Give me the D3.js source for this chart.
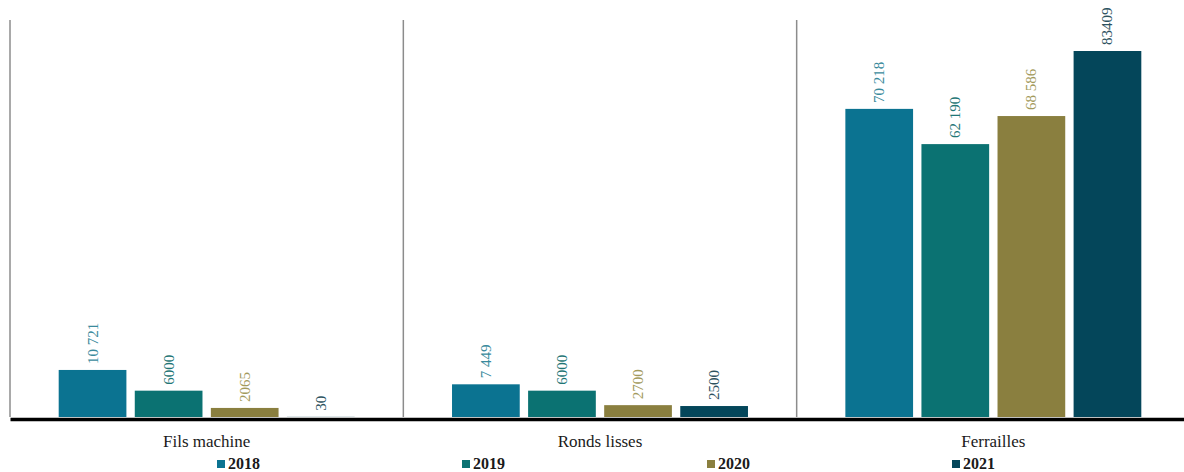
<!DOCTYPE html>
<html>
<head>
<meta charset="utf-8">
<script src="https://cdn.jsdelivr.net/npm/d3@7"></script>
<style>
  html, body { margin: 0; padding: 0; background: #fff; }
  svg { display: block; }
  text { font-family: "Liberation Serif", "Times New Roman", serif; }
</style>
</head>
<body>
<svg id="chart" width="1184" height="472"></svg>
<script>
const categories = ["Fils machine", "Ronds lisses", "Ferrailles"];
const series = ["2018", "2019", "2020", "2021"];
const values2018 = [10721, 7449, 70218];
const values2019 = [6000, 6000, 62190];
const values2020 = [2065, 2700, 68586];
const values2021 = [30, 2500, 83409];
const labels2018 = ["10 721", "7 449", "70 218"];
const labels2019 = ["6000", "6000", "62 190"];
const labels2020 = ["2065", "2700", "68 586"];
const labels2021 = ["30", "2500", "83409"];

const barColors = ["#0b7391", "#0b7272", "#8a7f3f", "#04465a"];
const labelColors = ["#3a8a9c", "#1f7676", "#a39a5c", "#2d5260"];

const seriesValues = [values2018, values2019, values2020, values2021];
const seriesLabels = [labels2018, labels2019, labels2020, labels2021];

const svg = d3.select("#chart");
const plotLeft = 10, plotRight = 1190, plotTop = 20, plotBase = 417;

const x0 = d3.scaleBand().domain(categories).range([plotLeft, plotRight]).paddingInner(0).paddingOuter(0);
const x1 = d3.scaleBand().domain(series).range([0, x0.bandwidth()]).paddingInner(0.11).paddingOuter(0.64);
const y = d3.scaleLinear().domain([0, 83409]).range([plotBase, 51]);

// vertical separators
svg.append("g").selectAll("line").data(categories).join("line")
  .attr("x1", d => x0(d)).attr("x2", d => x0(d))
  .attr("y1", plotTop).attr("y2", plotBase)
  .attr("stroke", "#8c8c8c").attr("stroke-width", 1.5);

const data = [];
categories.forEach((c, ci) => {
  series.forEach((s, si) => {
    data.push({ c, s, si, v: seriesValues[si][ci], label: seriesLabels[si][ci] });
  });
});

svg.append("g").selectAll("rect").data(data).join("rect")
  .attr("x", d => x0(d.c) + x1(d.s))
  .attr("width", x1.bandwidth())
  .attr("y", d => y(d.v))
  .attr("height", d => plotBase - y(d.v))
  .attr("fill", d => barColors[d.si]);

svg.append("g").selectAll("text").data(data).join("text")
  .attr("transform", d => `translate(${x0(d.c) + x1(d.s) + x1.bandwidth() / 2 + 5},${y(d.v) - 6}) rotate(-90)`)
  .attr("text-anchor", "start")
  .attr("font-size", 15)
  .attr("fill", d => labelColors[d.si])
  .text(d => d.label);

// baseline axis
const xAxis = d3.axisBottom(x0).tickSize(0).tickPadding(16);
const ax = svg.append("g").attr("transform", `translate(0,${plotBase + 2})`).call(xAxis);
ax.select(".domain").attr("stroke", "#000").attr("stroke-width", 3.5);
ax.selectAll("text").attr("font-size", 17).attr("fill", "#1a1a1a")
  .style("font-family", '"Liberation Serif", serif');

// legend
const legendX = d3.scalePoint().domain(series).range([217, 952]);
const lg = svg.append("g").selectAll("g").data(series).join("g")
  .attr("transform", d => `translate(${legendX(d)},460)`);
lg.append("rect").attr("width", 8).attr("height", 8).attr("fill", (d, i) => barColors[i]);
lg.append("text").attr("x", 11).attr("y", 8.5)
  .attr("font-size", 16).attr("font-weight", "bold").attr("fill", "#1a1a1a")
  .text(d => d);
</script>
</body>
</html>
